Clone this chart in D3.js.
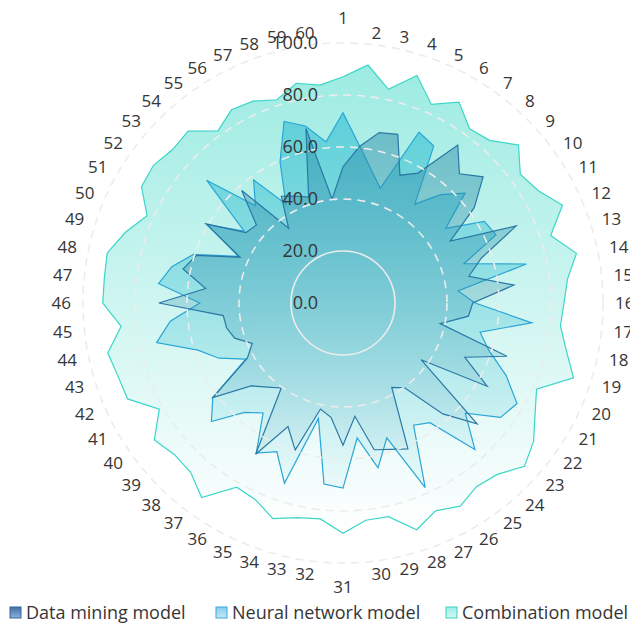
<!DOCTYPE html>
<html>
<head>
<meta charset="utf-8">
<script src="https://cdn.jsdelivr.net/npm/d3@7/dist/d3.min.js"></script>
<style>
  body { margin: 0; background: #fff; }
  text { font-family: "Open Sans", "Noto Sans", sans-serif; fill: #363636; }
</style>
</head>
<body>
<svg id="chart" width="630" height="625"></svg>
<script>
// Indicator names 1..60 around the radar
const categories = d3.range(1, 61).map(String);

const seriesNames = ["Data mining model", "Neural network model", "Combination model"];

const dataMining = [
  52.4, 60.5, 67.0, 68.2, 53.8, 57.7, 75.1, 66.9, 72.5, 62.4,
  47.6, 72.9, 56.0, 49.5, 66.1, 49.9, 48.5, 38.2, 66.3, 51.3,
  64.0, 37.1, 69.4, 57.4, 40.3, 37.5, 61.4, 59.2, 57.7, 43.8,
  54.7, 44.2, 41.7, 59.5, 52.0, 67.2, 40.4, 43.5, 47.6, 61.9,
  42.5, 38.2, 43.8, 45.8, 46.3, 70.8, 53.1, 62.9, 59.3, 43.3,
  60.9, 46.1, 44.8, 58.2, 35.6, 47.4, 45.0, 42.8, 68.6, 40.1
];

const neuralNetwork = [
  73.2, 60.8, 52.3, 46.4, 71.9, 69.8, 47.0, 56.1, 63.2, 48.8,
  62.8, 64.4, 48.9, 72.1, 44.5, 50.8, 73.0, 53.9, 59.0, 68.7,
  77.3, 74.9, 63.3, 75.8, 56.9, 54.3, 77.7, 54.5, 64.8, 52.2,
  71.2, 70.0, 45.4, 72.9, 62.6, 66.7, 52.3, 56.6, 68.1, 61.9,
  43.2, 52.2, 58.7, 73.3, 66.8, 55.1, 71.3, 67.3, 60.5, 44.0,
  60.2, 47.0, 70.6, 50.3, 58.5, 44.0, 59.5, 73.4, 69.6, 62.3
];

const combination = [
  87.0, 92.0, 84.0, 92.0, 83.6, 89.2, 82.8, 84.2, 90.8, 84.3,
  86.6, 92.4, 84.0, 91.8, 86.8, 85.0, 84.1, 87.8, 93.2, 81.5,
  85.3, 90.6, 93.9, 88.7, 87.3, 90.2, 87.5, 91.7, 84.0, 84.0,
  88.6, 83.5, 84.4, 87.2, 82.8, 81.8, 92.5, 87.6, 87.2, 89.7,
  81.6, 90.7, 91.0, 92.5, 85.8, 92.4, 92.3, 92.7, 88.0, 82.5,
  89.5, 90.1, 88.2, 89.0, 81.8, 85.8, 85.0, 82.2, 86.4, 84.3
];

const radialTicks = [0, 20, 40, 60, 80, 100];

const cx = 343, cy = 303, radius = 260;

const svg = d3.select("#chart");
const defs = svg.append("defs");

const rScale = d3.scaleLinear().domain([0, 100]).range([0, radius]);
const aScale = d3.scaleLinear().domain([0, categories.length]).range([0, 2 * Math.PI]);

const series = [
  { key: "comb", name: seriesNames[2], values: combination,   stroke: "#3ad6c8", fill: "#41d9c7", top: 0.52, bottom: 0.0 },
  { key: "nn",   name: seriesNames[1], values: neuralNetwork, stroke: "#2aa6d6", fill: "#1ab4cd", top: 0.52, bottom: 0.05 },
  { key: "dm",   name: seriesNames[0], values: dataMining,    stroke: "#2a78a6", fill: "#2c8ca9", top: 0.5,  bottom: 0.05 }
];

// vertical fade for each area
series.forEach(s => {
  const g = defs.append("linearGradient")
    .attr("id", "grad-" + s.key)
    .attr("x1", 0).attr("y1", 0).attr("x2", 0).attr("y2", 1);
  g.append("stop").attr("offset", 0).attr("stop-color", s.fill).attr("stop-opacity", s.top);
  g.append("stop").attr("offset", 1).attr("stop-color", s.fill).attr("stop-opacity", s.bottom);
});

const plot = svg.append("g").attr("transform", `translate(${cx},${cy})`);

const radarLine = d3.lineRadial()
  .angle((d, i) => aScale(i))
  .radius(d => rScale(d))
  .curve(d3.curveLinearClosed);

plot.selectAll("path.area")
  .data(series)
  .join("path")
  .attr("class", "area")
  .attr("d", s => radarLine(s.values))
  .attr("fill", s => `url(#grad-${s.key})`)
  .attr("stroke", s => s.stroke)
  .attr("stroke-width", 1.2)
  .attr("stroke-linejoin", "miter");

// concentric grid rings
plot.selectAll("circle.grid")
  .data(radialTicks.slice(1))
  .join("circle")
  .attr("class", "grid")
  .attr("r", d => rScale(d))
  .attr("fill", "none")
  .attr("stroke", "#ececec")
  .attr("stroke-width", 1.6)
  .attr("stroke-dasharray", d => d === 20 ? null : "8,6");

// radial value labels along the vertical axis
plot.selectAll("text.tick")
  .data(radialTicks)
  .join("text")
  .attr("class", "tick")
  .attr("x", -25)
  .attr("y", d => -rScale(d))
  .attr("dy", "0.36em")
  .attr("text-anchor", "end")
  .style("font-size", "18px")
  .text(d => d3.format(".1f")(d));

// indicator names
const labelR = 272;
plot.selectAll("text.cat")
  .data(categories)
  .join("text")
  .attr("class", "cat")
  .each(function (d, i) {
    const a = aScale(i);
    const sx = Math.sin(a), cy2 = Math.cos(a);
    const t = d3.select(this);
    let x = labelR * sx, y = -labelR * cy2, anchor, dy = "0.36em";
    if (Math.abs(sx) < 0.01) {
      anchor = "middle";
      if (cy2 > 0) { y = -labelR; dy = "-0.4em"; } else { y = labelR; dy = "1.05em"; }
    } else {
      anchor = sx > 0 ? "start" : "end";
    }
    t.attr("x", x).attr("y", y).attr("dy", dy).attr("text-anchor", anchor);
  })
  .style("font-size", "17px")
  .text(d => d);

// legend
const legendItems = [
  { name: seriesNames[0], x: 10, fillTop: "#3f6fa8", fillBot: "#8fb0d6", stroke: "#35669e" },
  { name: seriesNames[1], x: 216, fillTop: "#86cbee", fillBot: "#c5e8f8", stroke: "#3aa6dc" },
  { name: seriesNames[2], x: 446, fillTop: "#9aeee4", fillBot: "#d2f8f3", stroke: "#3ccfc4" }
];
legendItems.forEach((it, k) => {
  const g = defs.append("linearGradient").attr("id", "leg" + k)
    .attr("x1", 0).attr("y1", 0).attr("x2", 0).attr("y2", 1);
  g.append("stop").attr("offset", 0).attr("stop-color", it.fillTop);
  g.append("stop").attr("offset", 1).attr("stop-color", it.fillBot);
});
const legend = svg.append("g").attr("class", "legend");
const li = legend.selectAll("g").data(legendItems).join("g")
  .attr("transform", d => `translate(${d.x},607)`);
li.append("rect")
  .attr("width", 11).attr("height", 11)
  .attr("fill", (d, k) => `url(#leg${k})`)
  .attr("stroke", d => d.stroke).attr("stroke-width", 1);
li.append("text")
  .attr("x", 16).attr("y", 6).attr("dy", "0.36em")
  .style("font-size", "18px")
  .text(d => d.name);
</script>
</body>
</html>
